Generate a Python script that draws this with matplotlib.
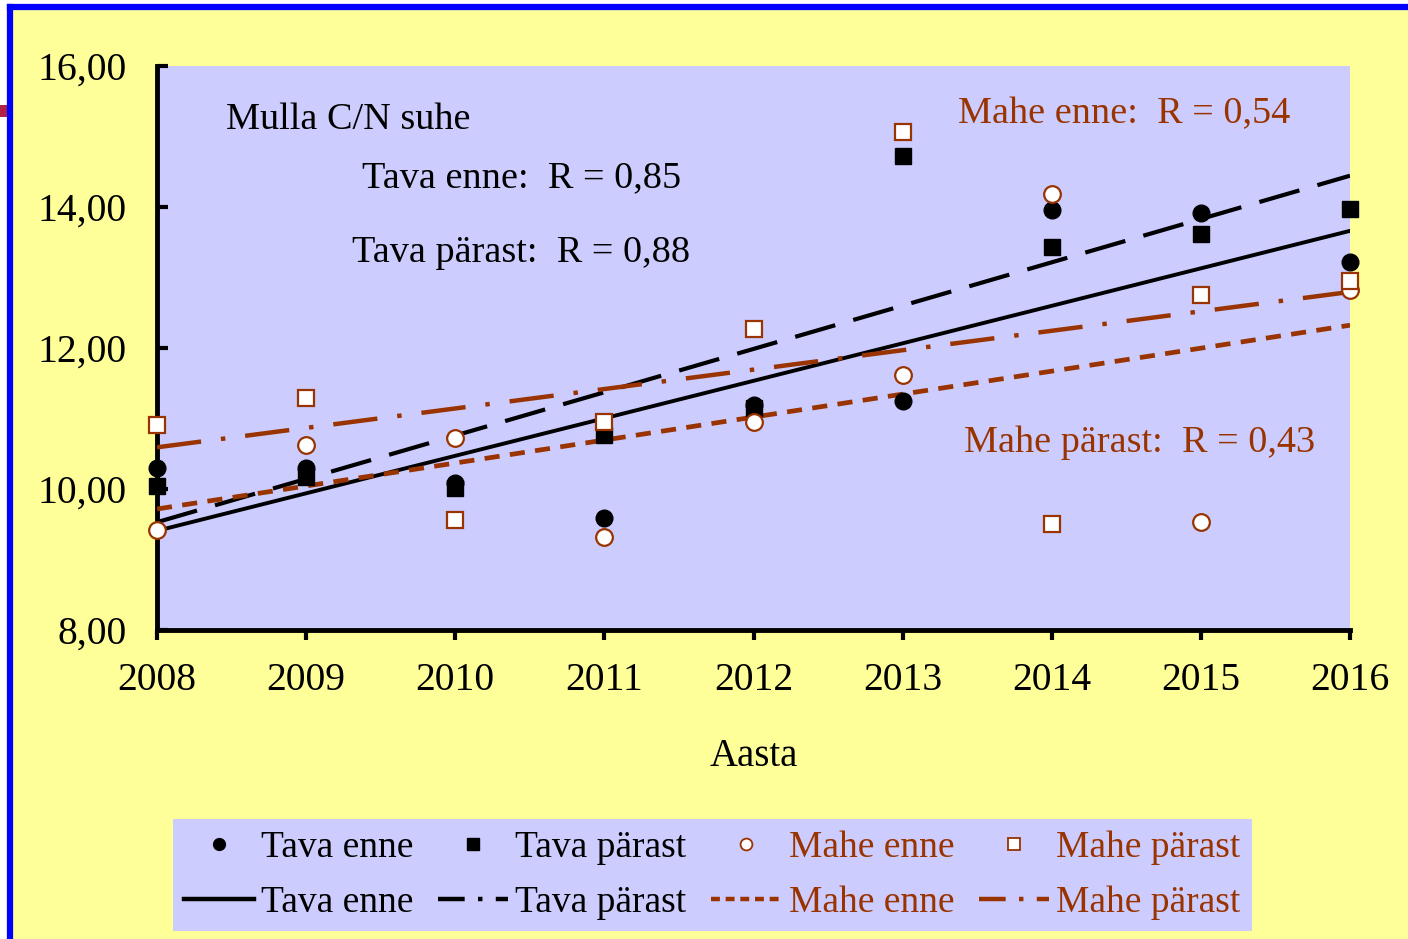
import numpy as np
import matplotlib
matplotlib.use("Agg")
import matplotlib.pyplot as plt
from matplotlib.lines import Line2D
from matplotlib.patches import Rectangle

plt.rcParams["font.family"] = ["Liberation Serif", "DejaVu Serif"]

years = np.arange(2008, 2017)
tava_enne = [10.30, 10.30, 10.09, 9.59, 11.19, 11.25, 13.96, 13.91, 13.22]
tava_parast = [10.04, 10.17, 10.01, 10.77, 11.15, 14.72, 13.43, 13.62, 13.97]
mahe_enne = [9.42, 10.62, 10.72, 9.32, 10.95, 11.62, 14.18, 9.53, 12.82]
mahe_parast = [10.91, 11.29, 9.56, 10.95, 12.27, 15.06, 9.50, 12.75, 12.95]
yticks = [8, 10, 12, 14, 16]
ytick_labels = ["8,00", "10,00", "12,00", "14,00", "16,00"]

RED = "#993300"
YEL = "#FFFF99"
LAV = "#CCCCFF"

fig = plt.figure(figsize=(14.08, 9.39), dpi=100, facecolor="white")
# yellow slide background with blue frame (left/top visible)
fig.add_artist(Rectangle((10 / 1408, 0), 1, 1 - 8 / 939, transform=fig.transFigure,
                         facecolor=YEL, edgecolor="none", zorder=-10))
fig.add_artist(Line2D([10 / 1408, 10 / 1408], [0, 1 - 7 / 939], color="#0000FF", lw=4.5))
fig.add_artist(Line2D([10 / 1408, 1], [1 - 7 / 939, 1 - 7 / 939], color="#0000FF", lw=4.5))
fig.add_artist(Rectangle((0, 1 - 117 / 939), 7 / 1408, 12 / 939, transform=fig.transFigure,
                         facecolor="#B22244", edgecolor="none"))

ax = fig.add_axes([157 / 1408, 1 - 630 / 939, 1193 / 1408, 564 / 939])
ax.set_facecolor(LAV)
ax.set_xlim(2008, 2016)
ax.set_ylim(8, 16)
for s in ["top", "right"]:
    ax.spines[s].set_visible(False)
for s in ["left", "bottom"]:
    ax.spines[s].set_linewidth(3.5)
ax.set_xticks(years)
ax.set_xticklabels([str(y) for y in years], fontsize=28.5)
ax.set_yticks(yticks)
ax.set_yticklabels(ytick_labels, fontsize=28.5)
ax.tick_params(axis="x", direction="out", length=7, width=3, pad=16)
ax.tick_params(axis="y", direction="in", length=8, width=3, pad=22)
ax.set_xlabel("Aasta", fontsize=28, labelpad=28)

# trend lines (least squares)
def trend(vals):
    k, b = np.polyfit(years, vals, 1)
    return k * years + b

ax.plot(years, trend(tava_enne), color="black", lw=2.8, zorder=3)
ax.plot(years, trend(tava_parast), color="black", lw=3, dashes=(10, 4.5), zorder=3)
ax.plot(years, trend(mahe_enne), color=RED, lw=3.4, dashes=(3.2, 2.2), zorder=3)
ax.plot(years, trend(mahe_parast), color=RED, lw=3.2, dashes=(10, 4.5, 1, 4.5), zorder=3)

ms = 12
ax.plot(years, tava_enne, "o", color="black", ms=ms, clip_on=False, zorder=4)
ax.plot(years, tava_parast, "s", color="black", ms=ms - 1, clip_on=False, zorder=4)
ax.plot(years, mahe_enne, "o", mfc="white", mec=RED, mew=1.6, ms=ms, clip_on=False, zorder=5)
ax.plot(years, mahe_parast, "s", mfc="white", mec=RED, mew=1.6, ms=ms - 1, clip_on=False, zorder=5)

tkw = dict(fontsize=27.5, transform=fig.transFigure, va="center")
fig.text(226 / 1408, 1 - 120 / 939, "Mulla C/N suhe", color="black", **tkw)
fig.text(362 / 1408, 1 - 178 / 939, "Tava enne:  R = 0,85", color="black", **tkw)
fig.text(352 / 1408, 1 - 253 / 939, "Tava pärast:  R = 0,88", color="black", **tkw)
fig.text(958 / 1408, 1 - 114 / 939, "Mahe enne:  R = 0,54", color=RED, **tkw)
fig.text(964 / 1408, 1 - 443 / 939, "Mahe pärast:  R = 0,43", color=RED, **tkw)

# legend
h = [
    Line2D([], [], ls="none", marker="o", color="black", ms=8.5),
    Line2D([], [], color="black", lw=3.2),
    Line2D([], [], ls="none", marker="s", color="black", ms=8.5),
    Line2D([], [], color="black", lw=3.2, dashes=(6, 3, 1, 3)),
    Line2D([], [], ls="none", marker="o", mfc="white", mec=RED, mew=1.3, ms=8.5),
    Line2D([], [], color=RED, lw=3.2, dashes=(2, 1.3)),
    Line2D([], [], ls="none", marker="s", mfc="white", mec=RED, mew=1.3, ms=8.5),
    Line2D([], [], color=RED, lw=3.2, dashes=(6, 3, 1, 3)),
]
labels = ["Tava enne", "Tava enne", "Tava pärast", "Tava pärast",
          "Mahe enne", "Mahe enne", "Mahe pärast", "Mahe pärast"]
leg = fig.legend(h, labels, ncol=4, loc="center", bbox_to_anchor=(712 / 1408, 1 - 875 / 939),
                 fontsize=27, frameon=True, fancybox=False, facecolor=LAV, edgecolor="none",
                 framealpha=1, handlelength=1.87, handletextpad=0.19, columnspacing=0.66,
                 labelspacing=0.55, borderpad=0.3, borderaxespad=0)
for t, lab in zip(leg.get_texts(), labels):
    t.set_color(RED if lab.startswith("Mahe") else "black")

fig.savefig("out.png", dpi=100, facecolor=fig.get_facecolor())
